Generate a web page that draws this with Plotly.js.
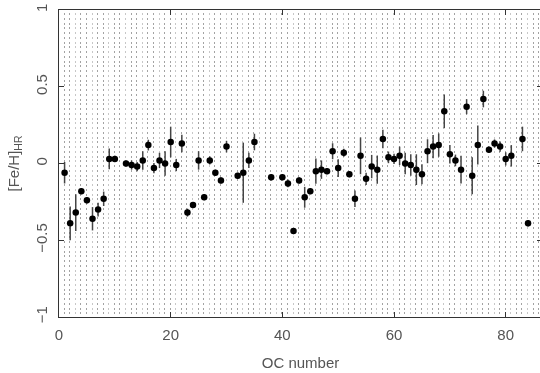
<!DOCTYPE html>
<html>
<head>
<meta charset="utf-8">
<script src="https://cdn.plot.ly/plotly-3.0.1.min.js"></script>
<style>
html,body{margin:0;padding:0;overflow:hidden;background:#fff;}
#wrap{position:relative;width:540px;height:373px;overflow:hidden;}
#bg{position:absolute;left:0;top:0;}
#chart{position:absolute;left:0;top:0;}
</style>
</head>
<body>
<div id="wrap"><canvas id="bg" width="543" height="373"></canvas><div id="chart"></div></div>
<script>
// OC number
const ocNumber = [1,2,3,4,5,6,7,8,9,10,12,13,14,15,16,17,18,19,20,21,22,23,24,25,26,27,28,29,30,32,33,34,35,38,40,41,42,43,44,45,46,47,48,49,50,51,52,53,54,55,56,57,58,59,60,61,62,63,64,65,66,67,68,69,70,71,72,73,74,75,76,77,78,79,80,81,83,84];
// [Fe/H]_HR
const feH = [-0.06,-0.39,-0.32,-0.18,-0.24,-0.36,-0.30,-0.23,0.03,0.03,0.00,-0.01,-0.02,0.02,0.12,-0.03,0.02,0.00,0.14,-0.01,0.13,-0.32,-0.27,0.02,-0.22,0.02,-0.06,-0.11,0.11,-0.08,-0.06,0.02,0.14,-0.09,-0.09,-0.13,-0.44,-0.11,-0.22,-0.18,-0.05,-0.04,-0.05,0.08,-0.03,0.07,-0.07,-0.23,0.05,-0.10,-0.02,-0.04,0.16,0.04,0.03,0.05,0.00,-0.01,-0.04,-0.07,0.08,0.11,0.12,0.34,0.06,0.02,-0.04,0.37,-0.08,0.12,0.42,0.09,0.13,0.11,0.03,0.05,0.16,-0.39];
// error
const feErr = [0.07,0.11,0.12,0.02,0.02,0.076,0.045,0.047,0.067,0.02,0.02,0.03,0.03,0.06,0.035,0.033,0.05,0.08,0.10,0.04,0.057,0.026,0.02,0.06,0.02,0.027,0.02,0.02,0.038,0.02,0.196,0.05,0.054,0.02,0.02,0.025,0.02,0.02,0.068,0.02,0.082,0.06,0.02,0.052,0.058,0.026,0.02,0.054,0.12,0.04,0.076,0.092,0.06,0.038,0.033,0.06,0.07,0.07,0.10,0.065,0.078,0.076,0.076,0.11,0.06,0.038,0.09,0.049,0.12,0.127,0.054,0.02,0.027,0.033,0.043,0.07,0.08,0.02];
const xTicks = [0,20,40,60,80];
const yTicks = [-1,-0.5,0,0.5,1];
const yTickText = ['\u22121','\u22120.5','0','0.5','1'];

const M = {l:59, r:1, t:10, b:56};
const W = 543, H = 373;
const xRange = [0, 86.5], yRange = [-1, 1];

// stipple background
(function(){
  const c = document.getElementById('bg').getContext('2d');
  const pw = W - M.l - M.r, ph = H - M.t - M.b;
  const sx = pw / (xRange[1]-xRange[0]);
  for (let k = 1; k <= 86; k++) {
    const x = Math.round(M.l + k*sx) - 1;
    for (let y = M.t + 3; y < M.t + ph - 1; y += 4.75) {
      c.fillStyle = (k % 3 === 0) ? 'rgba(0,0,0,0.22)' : 'rgba(0,0,0,0.36)';
      c.fillRect(x, Math.round(y), 1, 2);
    }
  }
})();

const font = {family: 'Liberation Sans, Arial, sans-serif', size: 15, color: '#555'};
const trace = {
  x: ocNumber, y: feH, type: 'scatter', mode: 'markers',
  marker: {color: '#000', size: 6.5},
  error_y: {type: 'data', array: feErr, visible: true, color: '#444', thickness: 1.5, width: 0},
  hoverinfo: 'x+y'
};
const layout = {
  width: W, height: H, margin: M,
  paper_bgcolor: 'rgba(0,0,0,0)', plot_bgcolor: 'rgba(0,0,0,0)',
  showlegend: false, font: font,
  xaxis: {
    range: xRange, showgrid: false, zeroline: false,
    showline: true, linecolor: '#333', linewidth: 1, mirror: 'ticks',
    ticks: 'inside', ticklen: 5, tickcolor: '#333',
    tickvals: xTicks, ticktext: xTicks.map(String),
    tickfont: font, ticklabelstandoff: 4,
    title: {text: 'OC number', font: font, standoff: 15}
  },
  yaxis: {
    range: yRange, showgrid: false, zeroline: false,
    showline: true, linecolor: '#333', linewidth: 1, mirror: 'ticks',
    ticks: 'inside', ticklen: 5, tickcolor: '#333',
    tickvals: yTicks, ticktext: yTickText, tickangle: -90,
    tickfont: font, ticklabelstandoff: 5,
    title: {text: '[Fe/H]<sub>HR</sub>', font: font, standoff: 9}
  }
};
Plotly.newPlot('chart', [trace], layout, {displayModeBar: false, staticPlot: true});
</script>
</body>
</html>
